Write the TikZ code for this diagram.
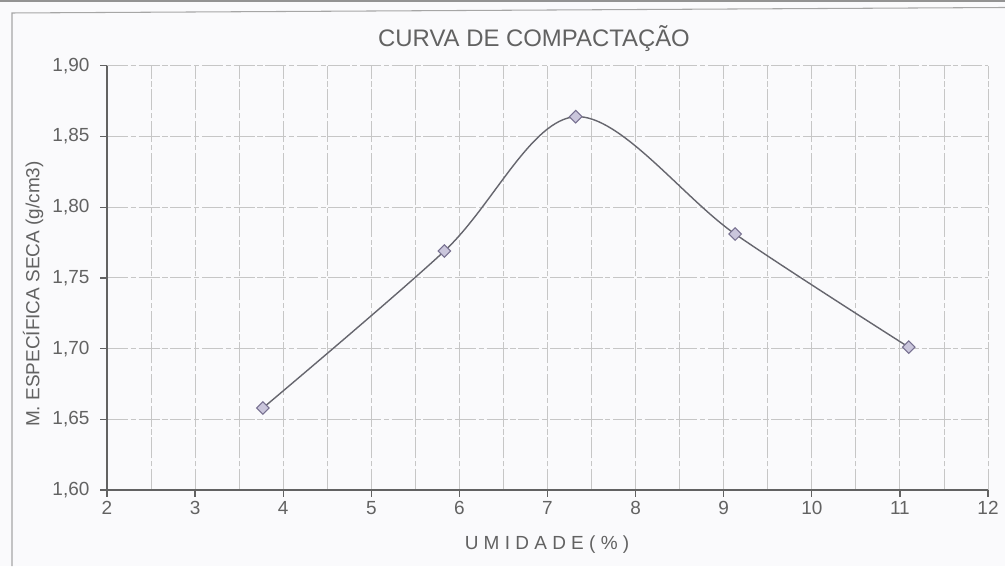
\documentclass[tikz,border=0pt]{standalone}
\usepackage{fontspec}
\setmainfont{Liberation Sans}
\usetikzlibrary{shapes.geometric}
\definecolor{paper}{HTML}{FAFAFC}
\definecolor{inkgray}{HTML}{626262}
\definecolor{curvegray}{HTML}{66666E}
\definecolor{markline}{HTML}{777090}
\definecolor{markfill}{HTML}{CAC6DC}
\begin{document}
\begin{tikzpicture}[
    gridline/.style={gray!45, line width=0.5pt, dash pattern=on 12pt off 1.5pt on 3pt off 1.5pt},
    axisline/.style={inkgray, line width=0.7pt},
    ticklabel/.style={text=inkgray, font=\fontsize{10.8}{12}\selectfont, inner sep=0pt},
    datamark/.style={diamond, draw=markline, fill=markfill, line width=0.6pt,
        inner sep=0pt, minimum size=0.26cm}]
\useasboundingbox (0,0) rectangle (20.1,11.32);
\fill[paper] (0,0) rectangle (20.1,11.32);
% moldura do grafico
\draw[gray!70, line width=0.6pt] (0.24,0) -- (0.24,11.06) -- (20.1,11.17);
\draw[gray!85, line width=1pt] (0,11.30) -- (20.1,11.30);
\node[text=inkgray, font=\fontsize{13.6}{15}\selectfont] (titulo) at (10.68,10.54)
    {CURVA DE COMPACTAÇÃO};
\node[text=inkgray, font=\fontsize{10.8}{12}\selectfont, rotate=90] (eixoy) at (0.66,5.44)
    {M. ESPECÍFICA SECA (g/cm3)};
\node[text=inkgray, font=\fontsize{10.8}{12}\selectfont] (eixox) at (10.94,0.42)
    {U M I D A D E ( \% )};
\begin{scope}[x=1.762cm, y=28.28cm, shift={(-1.384cm,-43.728cm)}]
    % grade
    \foreach \x in {2.5,3,...,12}
        \draw[gridline] (\x,1.6) -- (\x,1.9);
    \foreach \y in {1.65,1.70,1.75,1.80,1.85,1.90}
        \draw[gridline] (2,\y) -- (12,\y);
    % eixos
    \draw[axisline] (2,1.9) -- (2,1.6) -- (12,1.6);
    \foreach \x in {2,...,12}
        \draw[axisline] (\x,1.6) -- ++(0,-0.14cm)
            node[ticklabel, anchor=center, yshift=-0.22cm] (xl\x) {\x};
    \foreach \y/\yt in {1.60/{1,60},1.65/{1,65},1.70/{1,70},1.75/{1,75},1.80/{1,80},1.85/{1,85},1.90/{1,90}}
        \draw[axisline] (2,\y) -- ++(-0.14cm,0)
            node[ticklabel, anchor=east, xshift=-0.2cm] (yl\y) {\yt};
    % pontos do ensaio
    \coordinate (p1) at (3.77,1.658);
    \coordinate (p2) at (5.83,1.769);
    \coordinate (p3) at (7.32,1.864);
    \coordinate (p4) at (9.13,1.781);
    \coordinate (p5) at (11.10,1.701);
    \draw[curvegray, line width=0.8pt] plot[smooth, tension=0.55]
        coordinates {(p1) (p2) (p3) (p4) (p5)};
    \foreach \p in {1,...,5}
        \node[datamark] (m\p) at (p\p) {};
\end{scope}
\end{tikzpicture}
\end{document}
